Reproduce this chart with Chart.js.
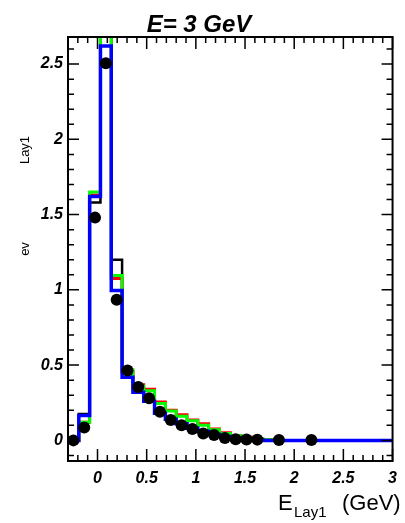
<!DOCTYPE html>
<html>
<head>
<meta charset="utf-8">
<script src="https://cdn.jsdelivr.net/npm/chart.js@4.4.0/dist/chart.umd.min.js"></script>
<style>
  html, body { margin: 0; padding: 0; background: #fff; }
  #wrap { width: 405px; height: 523px; }
</style>
</head>
<body>
<div id="wrap"><canvas id="chart" width="405" height="523"></canvas></div>
<script>
// E_Lay1 binning (GeV)
const binStart = -0.3;
const binWidth = 0.11;
const nBins = 30;

// histogram contents per bin
const histBlack = [0, 0.175, 1.58, 2.75, 1.2, 0.45, 0.34, 0.28, 0.2, 0.15, 0.115, 0.09, 0.06, 0.045, 0.03, 0.02, 0.012, 0.008, 0.004, 0, 0, 0, 0, 0, 0, 0, 0, 0, 0, 0];
const histRed = [0, 0.12, 1.63, 2.75, 1.075, 0.46, 0.37, 0.34, 0.255, 0.2, 0.17, 0.135, 0.11, 0.075, 0.05, 0.03, 0.02, 0.01, 0.005, 0, 0, 0, 0, 0, 0, 0, 0, 0, 0, 0];
const histGreen = [0, 0.12, 1.65, 2.75, 1.095, 0.47, 0.36, 0.33, 0.245, 0.195, 0.16, 0.13, 0.1, 0.07, 0.045, 0.03, 0.015, 0.01, 0.005, 0, 0, 0, 0, 0, 0, 0, 0, 0, 0, 0];
const histBlue = [0, 0.165, 1.62, 2.62, 0.995, 0.42, 0.32, 0.26, 0.18, 0.14, 0.11, 0.08, 0.06, 0.04, 0.025, 0.015, 0.01, 0.005, 0, 0, 0, 0, 0, 0, 0, 0, 0, 0, 0, 0];

// measured points (null = empty bin)
const dataPoints = [0, 0.085, 1.48, 2.505, 0.935, 0.465, 0.355, 0.28, 0.19, 0.135, 0.1, 0.075, 0.045, 0.035, 0.015, 0.008, 0.006, 0.005, null, 0.003, null, null, 0.003, null, null, null, null, null, null, null];

const xLabels = [0, 0.5, 1, 1.5, 2, 2.5, 3];
const yLabels = [0, 0.5, 1, 1.5, 2, 2.5];

const xRange = [-0.3, 3.0];
const yRange = [-0.137, 2.68];

const FONT = '"Liberation Sans", Arial, Helvetica, sans-serif';
Chart.defaults.font.family = FONT;
Chart.defaults.color = '#000';

// step outline: one point per lower bin edge, plus the last upper edge
const stepData = vals => {
    const pts = vals.map((v, i) => ({ x: binStart + i * binWidth, y: v }));
    pts.push({ x: binStart + nBins * binWidth, y: vals[nBins - 1] });
    return pts;
};

const pointData = dataPoints
    .map((v, i) => v === null ? null : { x: binStart + (i + 0.5) * binWidth, y: v })
    .filter(p => p !== null);

const histDataset = (vals, color, width, order) => ({
    data: stepData(vals),
    stepped: 'before',
    borderColor: color,
    borderWidth: width,
    pointRadius: 0,
    fill: false,
    clip: 0,
    order: order
});

// frame, inner ticks and texts
const decorations = {
    id: 'decorations',
    afterDraw(chart) {
        const { ctx, chartArea: a, scales: { x, y } } = chart;
        ctx.save();

        ctx.strokeStyle = '#000';
        ctx.lineWidth = 1.5;
        ctx.beginPath();
        for (let i = -3; i <= 30; i++) {
            const px = x.getPixelForValue(i / 10);
            const len = i % 5 === 0 ? 12 : 6;
            ctx.moveTo(px, a.bottom); ctx.lineTo(px, a.bottom - len);
            ctx.moveTo(px, a.top); ctx.lineTo(px, a.top + len);
        }
        for (let i = -1; i <= 26; i++) {
            const py = y.getPixelForValue(i / 10);
            const len = i % 5 === 0 ? 11 : 6;
            ctx.moveTo(a.left, py); ctx.lineTo(a.left + len, py);
            ctx.moveTo(a.right, py); ctx.lineTo(a.right - len, py);
        }
        ctx.stroke();

        ctx.lineWidth = 2;
        ctx.strokeRect(a.left, a.top, a.right - a.left, a.bottom - a.top);

        ctx.fillStyle = '#000';
        // title
        ctx.font = 'italic bold 24px ' + FONT;
        ctx.textAlign = 'center';
        ctx.textBaseline = 'alphabetic';
        ctx.fillText('E= 3 GeV', 199, 32);

        // x axis title with subscript
        ctx.textAlign = 'left';
        ctx.font = '22px ' + FONT;
        ctx.fillText('E', 278, 510);
        ctx.font = '15px ' + FONT;
        ctx.fillText('Lay1', 294, 517);
        ctx.font = '22px ' + FONT;
        ctx.fillText('(GeV)', 342, 510);

        // y axis title
        ctx.font = '13px ' + FONT;
        ctx.textAlign = 'center';
        ctx.textBaseline = 'middle';
        ctx.translate(25, 0);
        ctx.rotate(-Math.PI / 2);
        ctx.fillText('Lay1', -150, 0);
        ctx.fillText('ev', -249, 0);

        ctx.restore();
    }
};

const tickFont = { size: 16, weight: 'bold', style: 'italic' };

new Chart(document.getElementById('chart'), {
    type: 'line',
    data: {
        datasets: [
            {
                data: pointData,
                showLine: false,
                pointRadius: 6,
                pointBackgroundColor: '#000',
                pointBorderWidth: 0,
                clip: 0,
                order: 0
            },
            histDataset(histBlue, '#0000ff', 3.5, 1),
            histDataset(histGreen, '#00ff00', 3, 2),
            histDataset(histRed, '#ff0000', 3, 3),
            histDataset(histBlack, '#000000', 2.5, 4)
        ]
    },
    options: {
        responsive: false,
        animation: false,
        layout: { autoPadding: false, padding: { top: 37, right: 1, left: 0, bottom: 0 } },
        plugins: { legend: { display: false }, tooltip: { enabled: false } },
        scales: {
            x: {
                type: 'linear',
                min: xRange[0],
                max: xRange[1],
                grid: { display: false, drawTicks: false },
                border: { display: false },
                afterBuildTicks: s => { s.ticks = xLabels.map(v => ({ value: v })); },
                afterFit: s => { s.height = 62; },
                ticks: { font: tickFont, padding: 8, maxRotation: 0, autoSkip: false, callback: v => String(v) }
            },
            y: {
                type: 'linear',
                min: yRange[0],
                max: yRange[1],
                grid: { display: false, drawTicks: false },
                border: { display: false },
                afterBuildTicks: s => { s.ticks = yLabels.map(v => ({ value: v })); },
                afterFit: s => { s.width = 68; },
                ticks: { font: tickFont, padding: 5, callback: v => String(v) }
            }
        }
    },
    plugins: [decorations]
});
</script>
</body>
</html>
